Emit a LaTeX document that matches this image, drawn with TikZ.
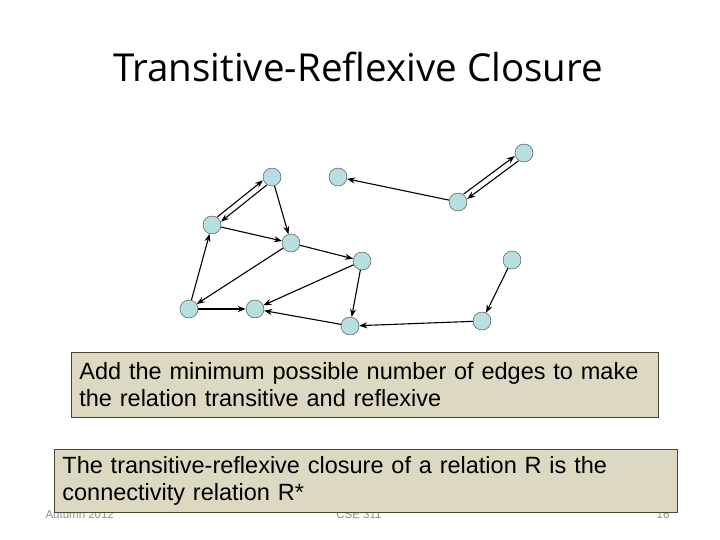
\documentclass[tikz,border=0pt]{standalone}
\usepackage{fontspec}
\setmainfont{Liberation Sans}
\newfontfamily\titelfont{Open Sans}
\usepackage{tikz}
\usetikzlibrary{arrows.meta}
\definecolor{punktfarbe}{RGB}{183,222,224}
\definecolor{kastenfarbe}{RGB}{221,216,194}
\definecolor{kastenrand}{RGB}{74,69,48}
\tikzset{
	>={Stealth[length=8pt,width=6pt]},
	punkt/.style={
		circle,
		fill=punktfarbe,
		draw=black!75, thin,
		minimum size=18pt,
		inner sep=0pt},
	line/.style={draw, line width=1.1pt, ->},
	kasten/.style={
		rectangle,
		fill=kastenfarbe,
		draw=kastenrand, thick,
		% rounded corners,
		anchor=north west,
		align=left,
		inner xsep=8pt, inner ysep=4pt,
		font=\fontsize{23.5}{27}\selectfont},
	fuss/.style={font=\fontsize{11.5}{14}\selectfont, text=black!45},
}

\begin{document}
\begin{tikzpicture}[x=1pt,y=-1pt]
	\useasboundingbox (0,0) rectangle (720,540);
	\node[font=\titelfont\fontsize{38.5}{46}\selectfont] (titel) at (358,67) {Transitive-Reflexive Closure};

	% knoten
	\node[punkt] (eins)   at (272,177) {};
	\node[punkt] (zwei)   at (212,225) {};
	\node[punkt] (drei)   at (291,243) {};
	\node[punkt] (vier)   at (362,261) {};
	\node[punkt] (fuenf)  at (189,309) {};
	\node[punkt] (sechs)  at (255,309) {};
	\node[punkt] (sieben) at (350,326) {};
	\node[punkt] (acht)   at (482,321) {};
	\node[punkt] (neun)   at (512,260) {};
	\node[punkt] (zehn)   at (338,177) {};
	\node[punkt] (elf)    at (458,202) {};
	\node[punkt] (zwoelf) at (524,153) {};

	% kanten
	\path[line, transform canvas={shift={(-1.9pt,2.3pt)}}] (zwei) -- (eins);
	\path[line, transform canvas={shift={(1.9pt,-2.3pt)}}] (eins) -- (zwei);
	\path[line] (eins) -- (drei);
	\path[line] (zwei) -- (drei);
	\path[line] (drei) -- (fuenf);
	\path[line] (fuenf) -- (zwei);
	\path[line] (fuenf) -- (sechs);
	\path[line] (drei) -- (vier);
	\path[line] (vier) -- (sechs);
	\path[line] (vier) -- (sieben);
	\path[line] (sieben) -- (sechs);
	\path[line] (acht) -- (sieben);
	\path[line] (neun) -- (acht);
	\path[line] (elf) -- (zehn);
	\path[line, transform canvas={shift={(-1.8pt,2.4pt)}}] (elf) -- (zwoelf);
	\path[line, transform canvas={shift={(1.8pt,-2.4pt)}}] (zwoelf) -- (elf);

	% fusszeile
	\node[fuss, anchor=base west] (datum) at (42,518) {Autumn 2012};
	\node[fuss, anchor=base] (kurs) at (359,518) {CSE 311};
	\node[fuss, anchor=base east] (seite) at (673,518) {16};

	\node[kasten, text width=571pt, minimum height=65pt] (aufgabe) at (71,352)
		{Add the minimum possible number of edges to make\\the relation transitive and reflexive};
	\node[kasten, text width=607pt, minimum height=63pt] (definition) at (54,449)
		{The transitive-reflexive closure of a relation R is the\\connectivity relation R*};
\end{tikzpicture}
\end{document}
